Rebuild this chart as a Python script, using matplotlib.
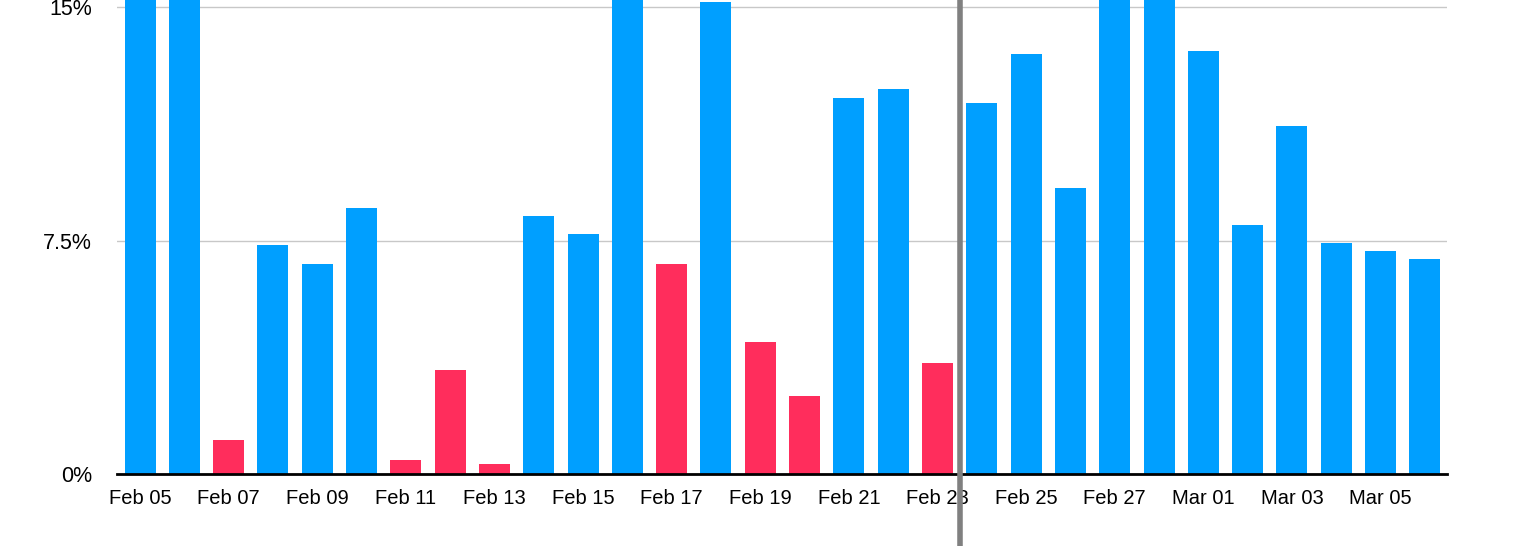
import matplotlib.pyplot as plt
import numpy as np

days = ['Feb 05', 'Feb 06', 'Feb 07', 'Feb 08', 'Feb 09', 'Feb 10', 'Feb 11', 'Feb 12',
        'Feb 13', 'Feb 14', 'Feb 15', 'Feb 16', 'Feb 17', 'Feb 18', 'Feb 19', 'Feb 20',
        'Feb 21', 'Feb 22', 'Feb 23', 'Feb 24', 'Feb 25', 'Feb 26', 'Feb 27', 'Feb 28',
        'Mar 01', 'Mar 02', 'Mar 03', 'Mar 04', 'Mar 05', 'Mar 06']
# percent values (bars above ~15.2% are cut off in the picture, estimated)
values = [18.0, 17.0, 1.09, 7.37, 6.76, 8.53, 0.45, 3.35, 0.32, 8.30,
          7.72, 16.5, 6.76, 15.16, 4.25, 2.51, 12.07, 12.36, 3.57, 11.91,
          13.49, 9.20, 19.0, 17.0, 13.58, 8.01, 11.17, 7.43, 7.15, 6.92]
negative = [False, False, True, False, False, False, True, True, True, False,
            False, False, True, False, True, True, False, False, True, False,
            False, False, False, False, False, False, False, False, False, False]
yticks = [0, 7.5, 15]
ylabels = ['0%', '7.5%', '15%']

plt.rcParams['font.family'] = ['Liberation Sans', 'DejaVu Sans']

fig = plt.figure(figsize=(15.2, 5.46), dpi=100)
ax = fig.add_axes([117 / 1520, 72 / 546, 1330 / 1520, 474 / 546])

x = np.arange(len(days))
colors = ['#FF2D5C' if n else '#009FFF' for n in negative]
ax.bar(x, values, width=0.7, color=colors, zorder=2)

ax.set_xlim(-0.52, len(days) - 0.5)
ax.set_ylim(0, 15.225)
ax.set_yticks(yticks)
ax.set_yticklabels(ylabels, fontsize=15.5)
ax.set_xticks(x[::2])
ax.set_xticklabels(days[::2], fontsize=14.5)
ax.tick_params(length=0)
ax.tick_params(axis='x', pad=11)
ax.tick_params(axis='y', pad=18)
ax.grid(axis='y', color='#C8C8C8', linewidth=1, zorder=0)
for s in ['top', 'right', 'left']:
    ax.spines[s].set_visible(False)
ax.spines['bottom'].set_linewidth(2)
ax.spines['bottom'].set_zorder(3)

# divider between Feb 23 and Feb 24
ax.axvline(18.5, ymin=-0.17, ymax=1.02, color='#808080', linewidth=4, clip_on=False, zorder=4)

fig.savefig('out.png', dpi=100)
